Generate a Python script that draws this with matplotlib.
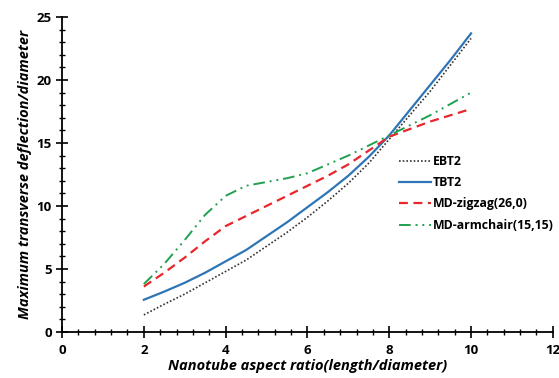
import numpy as np
import matplotlib
matplotlib.use("Agg")
import matplotlib.pyplot as plt
from matplotlib.ticker import MultipleLocator

# data
aspect_ratio = [2, 2.5, 3, 3.5, 4, 4.5, 5, 5.5, 6, 6.5, 7, 7.5, 8, 8.5, 9, 9.5, 10]
ebt2 = [1.35, 2.2, 3.0, 3.9, 4.8, 5.7, 6.8, 7.9, 9.1, 10.4, 11.8, 13.4, 15.3,
        17.2, 19.1, 21.2, 23.3]
tbt2 = [2.55, 3.2, 3.9, 4.7, 5.6, 6.5, 7.6, 8.7, 9.9, 11.1, 12.4, 13.9, 15.6,
        17.6, 19.6, 21.6, 23.7]
md_zigzag = [3.6, 4.7, 5.9, 7.2, 8.4, 9.2, 10.0, 10.8, 11.6, 12.4, 13.3, 14.4, 15.5,
             16.1, 16.7, 17.2, 17.7]
md_armchair = [3.8, 5.4, 7.3, 9.3, 10.8, 11.6, 11.9, 12.2, 12.6, 13.3, 14.0, 14.8, 15.6,
               16.4, 17.2, 18.1, 19.0]

plt.rcParams['font.family'] = ['Open Sans', 'DejaVu Sans']

fig = plt.figure(figsize=(5.59, 3.78), dpi=100)
ax = fig.add_axes([0.111, 0.122, 0.878, 0.833])

ax.plot(aspect_ratio, ebt2, color='#333333', linestyle=(0, (1, 1.2)), linewidth=1.2, label='EBT2')
ax.plot(aspect_ratio, tbt2, color='#2E75B6', linestyle='-', linewidth=1.6, label='TBT2')
ax.plot(aspect_ratio, md_zigzag, color='#E8262B', linestyle=(0, (4, 2.5)), linewidth=1.6,
        label='MD-zigzag(26,0)')
ax.plot(aspect_ratio, md_armchair, color='#1FA050', linestyle=(0, (6, 2.5, 1, 2.5, 1, 2.5)),
        linewidth=1.4, label='MD-armchair(15,15)')

ax.set_xlim(0, 12)
ax.set_ylim(0, 25)
ax.xaxis.set_major_locator(MultipleLocator(2))
ax.xaxis.set_minor_locator(MultipleLocator(0.4))
ax.yaxis.set_major_locator(MultipleLocator(5))
ax.yaxis.set_minor_locator(MultipleLocator(1))
ax.tick_params(which='major', direction='inout', length=8, width=1.2, labelsize=9.5)
ax.tick_params(which='minor', direction='inout', length=5, width=1.0)
for lbl in ax.get_xticklabels() + ax.get_yticklabels():
    lbl.set_fontweight('bold')
ax.tick_params(axis='x', pad=5)

for side in ['top', 'right']:
    ax.spines[side].set_visible(False)
for side in ['left', 'bottom']:
    ax.spines[side].set_linewidth(1.3)

ax.set_xlabel('Nanotube aspect ratio(length/diameter)', fontsize=10.5,
              fontweight='bold', style='italic', labelpad=1)
ax.set_ylabel('Maximum transverse deflection/diameter', fontsize=10.5,
              fontweight='bold', style='italic', labelpad=3)

leg = ax.legend(loc='center left', bbox_to_anchor=(0.665, 0.44), frameon=False,
                prop={'weight': 'bold', 'size': 8.8}, handlelength=2.6,
                handletextpad=0.15, labelspacing=0.68)

fig.savefig('out.png', dpi=100)
